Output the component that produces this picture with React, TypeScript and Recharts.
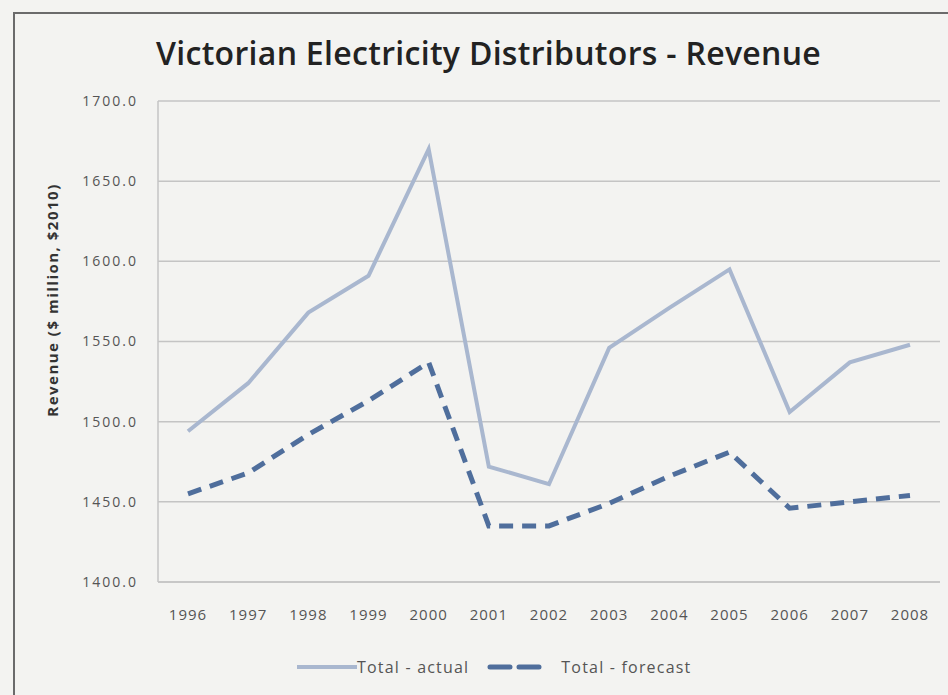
import { LineChart, Line, XAxis, YAxis, CartesianGrid } from 'recharts';

const years = ['1996', '1997', '1998', '1999', '2000', '2001', '2002', '2003', '2004', '2005', '2006', '2007', '2008'];
const actual = [1494, 1524, 1568, 1591, 1670, 1472, 1461, 1546, 1571, 1595, 1506, 1537, 1548];
const forecast = [1455, 1468, 1492, 1513, 1537, 1435, 1435, 1449, 1466, 1481, 1446, 1450, 1454];
const yTicks = [1400, 1450, 1500, 1550, 1600, 1650, 1700];

const data = years.map((year, i) => ({ year, actual: actual[i], forecast: forecast[i] }));

const FONT = '"Open Sans", Lato, sans-serif';
const ACTUAL_COLOR = '#a9b7cf';
const FORECAST_COLOR = '#4f6e9c';

function ChartLegend() {
  return (
    <div
      style={{
        position: 'absolute',
        left: 297,
        top: 656,
        display: 'flex',
        alignItems: 'center',
        fontFamily: FONT,
        fontSize: 16,
        letterSpacing: 1.2,
        color: '#555',
        whiteSpace: 'nowrap',
      }}
    >
      <svg width={60} height={10}>
        <line x1={0} y1={5} x2={60} y2={5} stroke={ACTUAL_COLOR} strokeWidth={4} />
      </svg>
      <span style={{ marginRight: 18 }}>Total - actual</span>
      <svg width={56} height={10} style={{ marginRight: 18 }}>
        <line x1={3} y1={5} x2={53} y2={5} stroke={FORECAST_COLOR} strokeWidth={5} strokeDasharray="20 9" strokeLinecap="round" />
      </svg>
      <span>Total - forecast</span>
    </div>
  );
}

export default function App() {
  return (
    <div style={{ position: 'absolute', left: 0, top: 0, width: 948, height: 695, background: '#f3f3f1', overflow: 'hidden' }}>
      <div style={{ position: 'absolute', left: 13, top: 12, width: 940, height: 700, borderLeft: '2px solid #6b6b6b', borderTop: '2px solid #6b6b6b' }} />
      <div style={{ position: 'absolute', left: 156, top: 37, lineHeight: 1, fontFamily: FONT, fontWeight: 600, fontSize: 32, letterSpacing: 0.3, color: '#222', whiteSpace: 'nowrap' }}>
        Victorian Electricity Distributors - Revenue
      </div>
      <div
        style={{
          position: 'absolute',
          left: 52,
          top: 300,
          transform: 'translate(-50%, -50%) rotate(-90deg)',
          fontFamily: FONT,
          fontWeight: 700,
          fontSize: 15,
          letterSpacing: 1.5,
          color: '#333',
          whiteSpace: 'nowrap',
        }}
      >
        Revenue ($ million, $2010)
      </div>
      <div style={{ position: 'absolute', left: 0, top: 0 }}>
        <LineChart width={948} height={695} data={data} margin={{ top: 101, right: 8, left: 58, bottom: 60 }}>
          <CartesianGrid vertical={false} stroke="#c4c4c4" strokeWidth={1.5} />
          <XAxis
            dataKey="year"
            padding={{ left: 30, right: 30 }}
            axisLine={{ stroke: '#c4c4c4', strokeWidth: 1.5 }}
            tickLine={false}
            tickSize={0}
            tickMargin={27}
            height={53}
            tick={{ fill: '#555', fontSize: 15, fontFamily: FONT, letterSpacing: 1 }}
          />
          <YAxis
            width={100}
            domain={[1400, 1700]}
            ticks={yTicks}
            interval={0}
            tickFormatter={(v: number) => v.toFixed(1)}
            axisLine={{ stroke: '#c4c4c4', strokeWidth: 1.5 }}
            tickLine={false}
            tickSize={0}
            tickMargin={20}
            tick={{ fill: '#555', fontSize: 14, fontFamily: FONT, letterSpacing: 2 }}
          />
          <Line type="linear" dataKey="actual" stroke={ACTUAL_COLOR} strokeWidth={4} dot={false} isAnimationActive={false} />
          <Line type="linear" dataKey="forecast" stroke={FORECAST_COLOR} strokeWidth={5} strokeDasharray="14 9" dot={false} isAnimationActive={false} />
        </LineChart>
      </div>
      <ChartLegend />
    </div>
  );
}
